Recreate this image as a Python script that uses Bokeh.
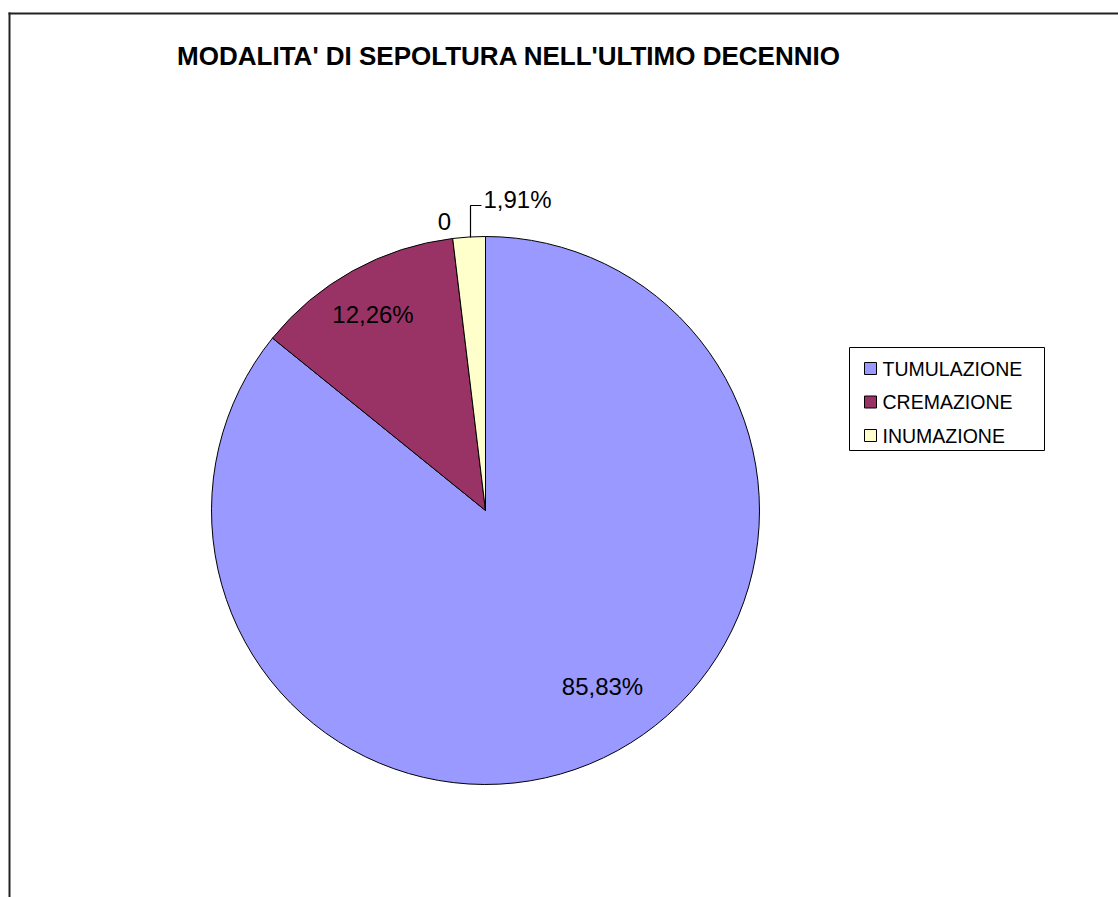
import numpy as np
from bokeh.plotting import figure
from bokeh.models import Range1d, ColumnDataSource
from bokeh.core.properties import value
from bokeh.embed import file_html
from bokeh.resources import INLINE

# ---------------- data ----------------
title_text = "MODALITA' DI SEPOLTURA NELL'ULTIMO DECENNIO"
categories = ["TUMULAZIONE", "CREMAZIONE", "INUMAZIONE"]
percentages = [85.83, 12.26, 1.91]
pct_labels = ["85,83%", "12,26%", "1,91%"]
zero_label = "0"
colors = ["#9999FF", "#993366", "#FFFFCC"]

# ---------------- layout ----------------
W, H = 1118, 897
FONT = "Liberation Sans"


def py(y):
    """screen pixel y (top-down) -> data y"""
    return H - y


p = figure(width=W, height=H, x_range=Range1d(0, W), y_range=Range1d(0, H),
           output_backend="svg", toolbar_location=None, min_border=0,
           background_fill_color="white", border_fill_color="white")
p.axis.visible = False
p.grid.visible = False
p.outline_line_color = None

# chart frame (only top and left edges are visible in the window)
p.segment(x0=[8, 9], y0=[py(13), py(12)], x1=[1300, 9], y1=[py(13), py(1000)],
          line_color="#222222", line_width=2)

# ---------------- pie ----------------
cx, cy, R = 485, py(510), 274
frac = np.array(percentages) / sum(percentages)
cum = np.concatenate([[0], np.cumsum(frac)])
start = np.pi / 2 - cum[:-1] * 2 * np.pi
end = np.pi / 2 - cum[1:] * 2 * np.pi
src = ColumnDataSource(dict(start=start, end=end, color=colors, cat=categories))
p.wedge(x=cx, y=cy, radius=R, start_angle="start", end_angle="end", direction="clock",
        fill_color="color", line_color="black", line_width=1, source=src)

# data labels
lab_x = [602, 372.5]
lab_y = [py(686), py(314)]
p.text(x=lab_x, y=lab_y, text=pct_labels[:2], text_font=value(FONT), text_font_size="24px",
       text_align="center", text_baseline="middle", text_color="black")
# small slice label with leader line
p.line(x=[470, 470, 481], y=[py(237), py(205), py(205)], line_color="black", line_width=1.2)
p.text(x=[483], y=[py(198.5)], text=[pct_labels[2]], text_font=value(FONT), text_font_size="24px",
       text_align="left", text_baseline="middle", text_color="black")
p.text(x=[444], y=[py(221)], text=[zero_label], text_font=value(FONT), text_font_size="24px",
       text_align="center", text_baseline="middle", text_color="black")

# title
p.text(x=[508.5], y=[py(55.5)], text=[title_text], text_font=value(FONT), text_font_size="26px",
       text_font_style="bold", text_align="center", text_baseline="middle", text_color="black")

# ---------------- legend ----------------
lx0, lx1, ly0, ly1 = 849, 1044, 347, 450
p.quad(left=[lx0], right=[lx1], top=[py(ly0)], bottom=[py(ly1)],
       fill_color="white", line_color="black", line_width=1)
row_c = [368 + i * 33.5 for i in range(len(categories))]
p.rect(x=[870] * len(categories), y=[py(c) for c in row_c], width=12, height=12,
       fill_color=colors, line_color="black", line_width=1)
p.text(x=[882] * len(categories), y=[py(c) for c in row_c], text=categories,
       text_font=value(FONT), text_font_size="19.5px", text_align="left",
       text_baseline="middle", text_color="black")

open("out.html", "w").write(file_html(p, INLINE))
